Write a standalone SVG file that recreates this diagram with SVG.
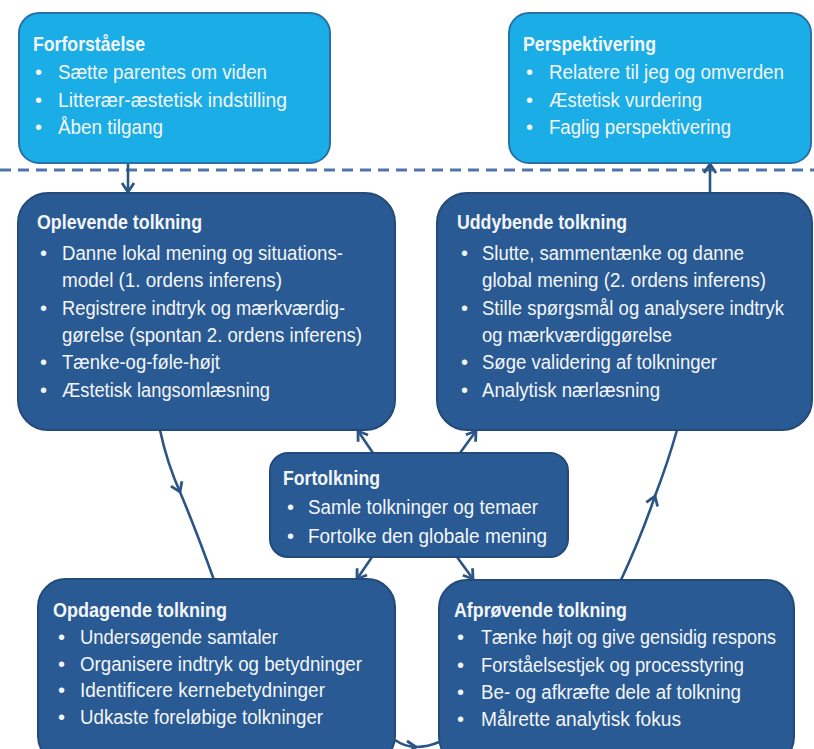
<svg xmlns="http://www.w3.org/2000/svg" width="814" height="749" viewBox="0 0 814 749">
<defs>
<style>
.light{fill:#1badE5;stroke:#2a70a8;stroke-width:2}
.dark{fill:#2a5a93;stroke:#224a7b;stroke-width:2}
text{font-family:"Liberation Sans",Arial,sans-serif;font-size:20px;fill:#f3f6f9}
.t{font-weight:bold}
.con{fill:none;stroke:#2b5584;stroke-width:2.6}
.dash{stroke:#4f75ad;stroke-width:3;stroke-dasharray:11 7}
</style>
<marker id="ahm" viewBox="0 0 16 16" refX="11" refY="8" markerWidth="16" markerHeight="16" orient="auto" markerUnits="userSpaceOnUse">
<path d="M2,2 L11,8 L2,14" fill="none" stroke="#2b5584" stroke-width="2.8"/>
</marker>
</defs>
<rect width="814" height="749" fill="#ffffff"/>
<line class="dash" x1="0" y1="170" x2="814" y2="170"/>

<g id="connectors">
<line class="con" x1="128" y1="163" x2="128" y2="192" marker-end="url(#ahm)"/>
<line class="con" x1="710" y1="192" x2="710" y2="164" marker-end="url(#ahm)"/>
<path class="con" d="M160,430 Q167,463 180,492 Q196,530 214,580" marker-mid="url(#ahm)"/>
<path class="con" d="M621,580 Q641,537 655,496 Q668,462 677,430" marker-mid="url(#ahm)"/>
<line class="con" x1="373" y1="453" x2="358" y2="431" marker-end="url(#ahm)"/>
<line class="con" x1="460" y1="453" x2="476" y2="431" marker-end="url(#ahm)"/>
<line class="con" x1="372" y1="557" x2="357" y2="579" marker-end="url(#ahm)"/>
<line class="con" x1="457" y1="557" x2="473" y2="579" marker-end="url(#ahm)"/>
<path class="con" d="M395,740 Q405,747 416,747 Q428,747 439,742" marker-mid="url(#ahm)"/>
</g>

<g id="forforstaaelse">
<rect class="light" x="19" y="13" width="311" height="150" rx="20"/>
<text class="t" x="33" y="51" textLength="112" lengthAdjust="spacingAndGlyphs">Forforståelse</text>
<text x="35" y="79">•</text><text x="58" y="79" textLength="209" lengthAdjust="spacingAndGlyphs">Sætte parentes om viden</text>
<text x="35" y="107">•</text><text x="58" y="107" textLength="229" lengthAdjust="spacingAndGlyphs">Litterær-æstetisk indstilling</text>
<text x="35" y="134">•</text><text x="58" y="134" textLength="105" lengthAdjust="spacingAndGlyphs">Åben tilgang</text>
</g>

<g id="perspektivering">
<rect class="light" x="509" y="13" width="302" height="150" rx="20"/>
<text class="t" x="523" y="51" textLength="133" lengthAdjust="spacingAndGlyphs">Perspektivering</text>
<text x="526" y="79">•</text><text x="549" y="79" textLength="235" lengthAdjust="spacingAndGlyphs">Relatere til jeg og omverden</text>
<text x="526" y="107">•</text><text x="549" y="107" textLength="153" lengthAdjust="spacingAndGlyphs">Æstetisk vurdering</text>
<text x="526" y="134">•</text><text x="549" y="134" textLength="182" lengthAdjust="spacingAndGlyphs">Faglig perspektivering</text>
</g>

<g id="oplevende">
<rect class="dark" x="18" y="193" width="377" height="237" rx="30"/>
<text class="t" x="37" y="229" textLength="165" lengthAdjust="spacingAndGlyphs">Oplevende tolkning</text>
<text x="40" y="260">•</text><text x="62" y="260" textLength="281" lengthAdjust="spacingAndGlyphs">Danne lokal mening og situations-</text>
<text x="62" y="287" textLength="220" lengthAdjust="spacingAndGlyphs">model (1. ordens inferens)</text>
<text x="40" y="315">•</text><text x="62" y="315" textLength="283" lengthAdjust="spacingAndGlyphs">Registrere indtryk og mærkværdig-</text>
<text x="62" y="342" textLength="300" lengthAdjust="spacingAndGlyphs">gørelse (spontan 2. ordens inferens)</text>
<text x="40" y="369">•</text><text x="62" y="369" textLength="158" lengthAdjust="spacingAndGlyphs">Tænke-og-føle-højt</text>
<text x="40" y="397">•</text><text x="62" y="397" textLength="208" lengthAdjust="spacingAndGlyphs">Æstetisk langsomlæsning</text>
</g>

<g id="uddybende">
<rect class="dark" x="437" y="193" width="375" height="237" rx="30"/>
<text class="t" x="457" y="229" textLength="170" lengthAdjust="spacingAndGlyphs">Uddybende tolkning</text>
<text x="461" y="260">•</text><text x="482" y="260" textLength="262" lengthAdjust="spacingAndGlyphs">Slutte, sammentænke og danne</text>
<text x="482" y="287" textLength="284" lengthAdjust="spacingAndGlyphs">global mening (2. ordens inferens)</text>
<text x="461" y="315">•</text><text x="482" y="315" textLength="302" lengthAdjust="spacingAndGlyphs">Stille spørgsmål og analysere indtryk</text>
<text x="482" y="342" textLength="190" lengthAdjust="spacingAndGlyphs">og mærkværdiggørelse</text>
<text x="461" y="369">•</text><text x="482" y="369" textLength="235" lengthAdjust="spacingAndGlyphs">Søge validering af tolkninger</text>
<text x="461" y="397">•</text><text x="482" y="397" textLength="178" lengthAdjust="spacingAndGlyphs">Analytisk nærlæsning</text>
</g>

<g id="fortolkning">
<rect class="dark" x="270" y="453" width="298" height="104" rx="18"/>
<text class="t" x="283" y="485" textLength="97" lengthAdjust="spacingAndGlyphs">Fortolkning</text>
<text x="287" y="514">•</text><text x="308" y="514" textLength="230" lengthAdjust="spacingAndGlyphs">Samle tolkninger og temaer</text>
<text x="287" y="543">•</text><text x="308" y="543" textLength="239" lengthAdjust="spacingAndGlyphs">Fortolke den globale mening</text>
</g>

<g id="opdagende">
<rect class="dark" x="38" y="579" width="357" height="185" rx="28"/>
<text class="t" x="53" y="617" textLength="174" lengthAdjust="spacingAndGlyphs">Opdagende tolkning</text>
<text x="58" y="644">•</text><text x="80" y="644" textLength="198" lengthAdjust="spacingAndGlyphs">Undersøgende samtaler</text>
<text x="58" y="671">•</text><text x="80" y="671" textLength="282" lengthAdjust="spacingAndGlyphs">Organisere indtryk og betydninger</text>
<text x="58" y="697">•</text><text x="80" y="697" textLength="245" lengthAdjust="spacingAndGlyphs">Identificere kernebetydninger</text>
<text x="58" y="724">•</text><text x="80" y="724" textLength="243" lengthAdjust="spacingAndGlyphs">Udkaste foreløbige tolkninger</text>
</g>

<g id="afproevende">
<rect class="dark" x="439" y="580" width="355" height="185" rx="28"/>
<text class="t" x="454" y="617" textLength="173" lengthAdjust="spacingAndGlyphs">Afprøvende tolkning</text>
<text x="457" y="644">•</text><text x="481" y="644" textLength="295" lengthAdjust="spacingAndGlyphs">Tænke højt og give gensidig respons</text>
<text x="457" y="672">•</text><text x="481" y="672" textLength="263" lengthAdjust="spacingAndGlyphs">Forståelsestjek og processtyring</text>
<text x="457" y="699">•</text><text x="481" y="699" textLength="260" lengthAdjust="spacingAndGlyphs">Be- og afkræfte dele af tolkning</text>
<text x="457" y="726">•</text><text x="481" y="726" textLength="200" lengthAdjust="spacingAndGlyphs">Målrette analytisk fokus</text>
</g>
</svg>
